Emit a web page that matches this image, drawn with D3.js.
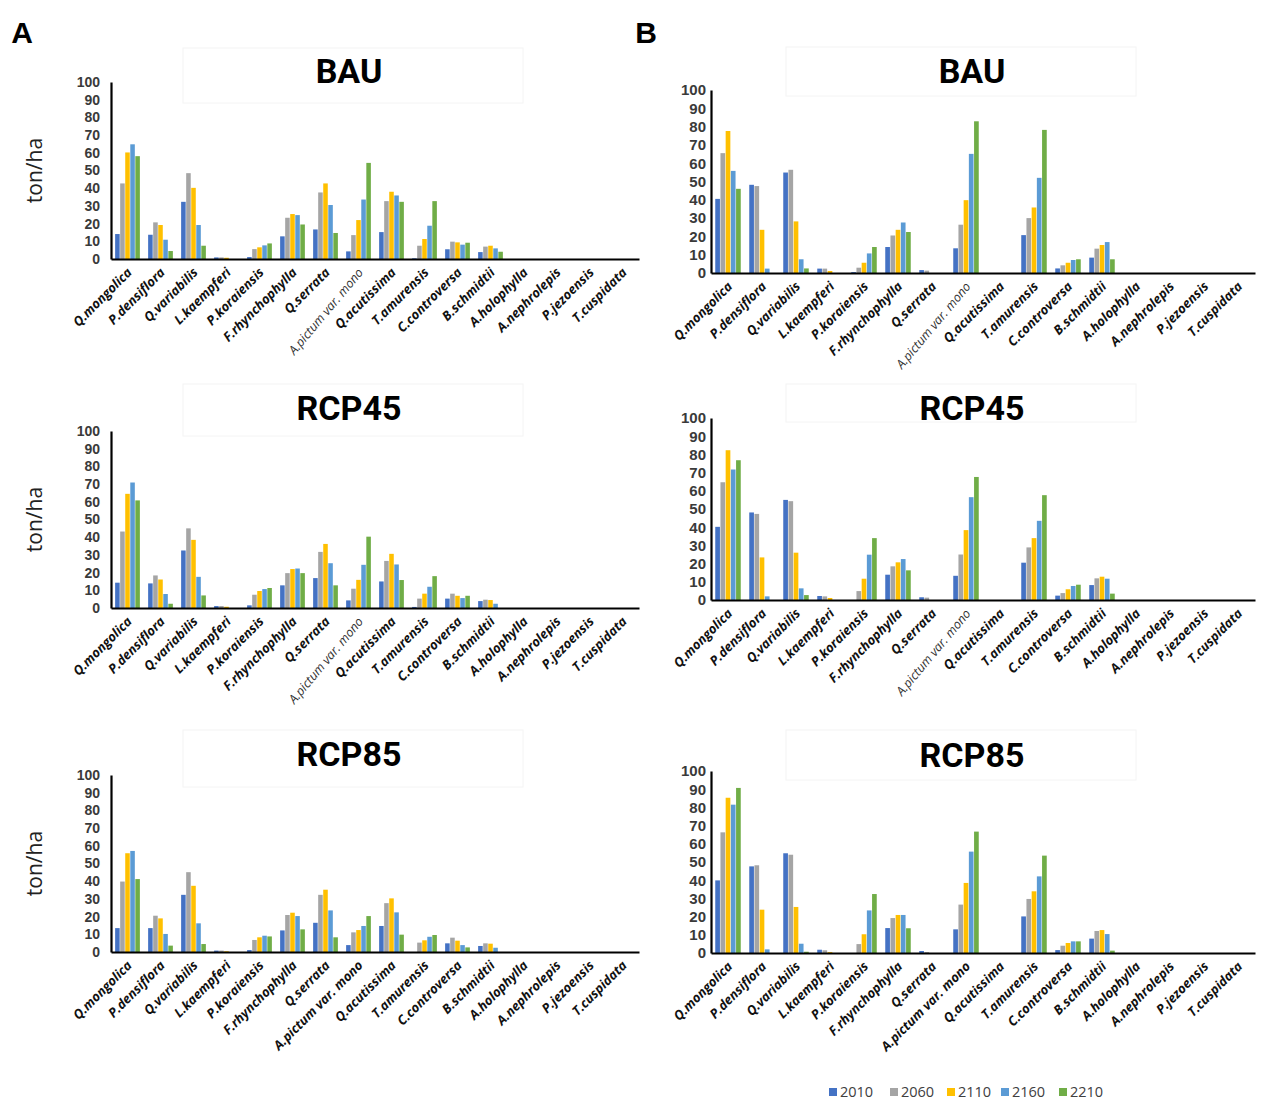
<!DOCTYPE html>
<html>
<head>
<meta charset="utf-8">
<script src="https://cdn.jsdelivr.net/npm/d3@7"></script>
<style>
  html, body { margin: 0; padding: 0; background: #fff; }
  svg { display: block; }
</style>
</head>
<body>
<svg id="chart" width="1268" height="1107"></svg>
<script>
// ---------- DATA ----------
const categories = ["Q.mongolica","P.densiflora","Q.variabilis","L.kaempferi","P.koraiensis",
  "F.rhynchophylla","Q.serrata","A.pictum var. mono","Q.acutissima","T.amurensis",
  "C.controversa","B.schmidtii","A.holophylla","A.nephrolepis","P.jezoensis","T.cuspidata"];
const years = ["2010","2060","2110","2160","2210"];
const yTicks = [0,10,20,30,40,50,60,70,80,90,100];
const scenarios = ["BAU","RCP45","RCP85"];
const panelLetters = ["A","B"];

// rows = years (2010, 2060, 2110, 2160, 2210), columns = categories
const A_BAU = [
  [14.1, 13.7, 32.3, 0.9, 1.1, 12.8, 16.7, 4.3, 15.2, 0.4, 5.5, 3.9, 0, 0, 0, 0],
  [42.7, 20.7, 48.5, 0.9, 5.6, 23.3, 37.6, 13.5, 32.7, 7.5, 9.8, 7.0, 0, 0, 0, 0],
  [60.2, 19.2, 40.2, 0.7, 6.6, 25.4, 42.7, 22.0, 38.0, 11.3, 9.4, 7.5, 0, 0, 0, 0],
  [64.8, 10.9, 19.2, 0, 7.7, 24.8, 30.5, 33.6, 35.9, 18.8, 8.1, 6.0, 0, 0, 0, 0],
  [58.1, 4.5, 7.5, 0, 8.8, 19.5, 14.7, 54.3, 32.3, 32.7, 9.2, 4.1, 0, 0, 0, 0]
];
const B_BAU = [
  [40.5, 48.2, 54.9, 2.4, 0.5, 14.2, 1.6, 13.5, 0, 20.7, 2.5, 8.4, 0, 0, 0, 0],
  [65.5, 47.5, 56.4, 2.4, 2.9, 20.5, 1.3, 26.4, 0, 30.0, 4.2, 13.3, 0, 0, 0, 0],
  [77.6, 23.6, 28.2, 1.1, 5.6, 23.6, 0, 39.8, 0, 35.8, 5.6, 15.3, 0, 0, 0, 0],
  [55.8, 2.4, 7.5, 0, 10.7, 27.6, 0, 65.1, 0, 52.0, 7.1, 16.9, 0, 0, 0, 0],
  [46.0, 0, 2.5, 0, 14.2, 22.4, 0, 82.9, 0, 78.2, 7.5, 7.5, 0, 0, 0, 0]
];
const A_RCP45 = [
  [14.3, 13.9, 32.5, 1.1, 1.5, 12.8, 16.9, 4.3, 15.0, 0.6, 5.3, 3.9, 0, 0, 0, 0],
  [43.2, 18.4, 45.0, 1.1, 7.5, 19.7, 31.7, 10.9, 26.6, 5.3, 8.1, 4.7, 0, 0, 0, 0],
  [64.5, 16.1, 38.5, 0.7, 9.6, 22.0, 36.2, 15.9, 30.6, 8.1, 6.9, 4.5, 0, 0, 0, 0],
  [70.9, 7.9, 17.6, 0, 10.7, 22.3, 25.3, 24.4, 24.6, 12.0, 5.6, 2.4, 0, 0, 0, 0],
  [60.8, 2.4, 7.1, 0, 11.3, 19.7, 12.8, 40.3, 15.8, 18.0, 6.9, 0, 0, 0, 0, 0]
];
const B_RCP45 = [
  [40.2, 48.1, 55.0, 2.2, 0, 13.9, 1.5, 13.3, 0, 20.5, 2.4, 8.2, 0, 0, 0, 0],
  [64.7, 47.3, 54.3, 2.0, 4.9, 18.5, 1.3, 25.0, 0, 28.9, 3.8, 11.9, 0, 0, 0, 0],
  [82.3, 23.4, 26.0, 1.1, 11.7, 20.7, 0, 38.4, 0, 34.0, 5.9, 12.8, 0, 0, 0, 0],
  [71.7, 2.0, 6.4, 0, 24.9, 22.5, 0, 56.5, 0, 43.5, 7.7, 11.7, 0, 0, 0, 0],
  [76.8, 0, 2.7, 0, 34.0, 16.3, 0, 67.6, 0, 57.6, 8.4, 3.5, 0, 0, 0, 0]
];
const A_RCP85 = [
  [13.5, 13.5, 32.3, 0.8, 1.1, 12.2, 16.5, 3.9, 14.7, 0, 4.9, 3.4, 0, 0, 0, 0],
  [39.8, 20.5, 45.1, 0.8, 6.8, 20.9, 32.3, 11.1, 27.6, 5.3, 8.1, 4.9, 0, 0, 0, 0],
  [55.8, 19.0, 37.4, 0.4, 8.3, 22.2, 35.2, 12.4, 30.3, 6.6, 6.4, 4.7, 0, 0, 0, 0],
  [57.1, 10.2, 16.2, 0, 9.2, 20.3, 23.5, 14.7, 22.4, 8.6, 3.9, 2.4, 0, 0, 0, 0],
  [41.2, 3.6, 4.5, 0, 8.8, 12.8, 8.3, 20.3, 9.8, 9.6, 2.6, 0, 0, 0, 0, 0]
];
const B_RCP85 = [
  [39.9, 47.6, 54.8, 1.8, 0, 13.7, 1.1, 13.0, 0, 20.1, 1.6, 7.9, 0, 0, 0, 0],
  [66.3, 48.2, 54.0, 1.5, 4.9, 19.2, 0.5, 26.6, 0, 29.7, 4.0, 12.1, 0, 0, 0, 0],
  [85.3, 23.8, 25.3, 0.5, 10.3, 20.9, 0, 38.5, 0, 33.9, 5.5, 12.6, 0, 0, 0, 0],
  [81.5, 2.0, 5.1, 0, 23.4, 20.9, 0, 55.7, 0, 42.1, 6.4, 10.4, 0, 0, 0, 0],
  [90.7, 0, 0.7, 0, 32.4, 13.6, 0, 66.7, 0, 53.5, 6.4, 1.3, 0, 0, 0, 0]
];

// ---------- STYLE / LAYOUT ----------
const palette = ["#4472C4", "#A5A5A5", "#FFC000", "#5B9BD5", "#70AD47"];

const columns = {
  A: { x0: 111, x1: 639, tickGap: 11, tickSize: 14, titleX: 349, boxX: 183, boxW: 340, yLabel: true },
  B: { x0: 711, x1: 1255, tickGap: 5, tickSize: 15, titleX: 972, boxX: 786, boxW: 350, yLabel: false }
};
const panels = [
  { col: "A", scen: "BAU",   data: A_BAU,   top: 82,  bottom: 259, titleY: 83,  boxY: 48,  boxH: 55, lightPictum: true },
  { col: "B", scen: "BAU",   data: B_BAU,   top: 90,  bottom: 273, titleY: 83,  boxY: 47,  boxH: 49, lightPictum: true },
  { col: "A", scen: "RCP45", data: A_RCP45, top: 431, bottom: 608, titleY: 420, boxY: 384, boxH: 52, lightPictum: true },
  { col: "B", scen: "RCP45", data: B_RCP45, top: 418, bottom: 600, titleY: 420, boxY: 384, boxH: 38, lightPictum: true },
  { col: "A", scen: "RCP85", data: A_RCP85, top: 775, bottom: 952, titleY: 766, boxY: 730, boxH: 57, lightPictum: false },
  { col: "B", scen: "RCP85", data: B_RCP85, top: 771, bottom: 953, titleY: 767, boxY: 730, boxH: 50, lightPictum: false }
];

const svg = d3.select("#chart");

// panel letters
svg.selectAll("text.letter").data(panelLetters).join("text")
  .attr("class", "letter")
  .attr("x", (d, i) => i === 0 ? 22 : 646)
  .attr("y", 43)
  .attr("text-anchor", "middle")
  .attr("font-family", "Liberation Sans, Arial, sans-serif")
  .attr("font-weight", 700)
  .attr("font-size", 30)
  .attr("fill", "#000")
  .text(d => d);

panels.forEach(p => {
  const c = columns[p.col];
  const g = svg.append("g");

  const x = d3.scaleBand().domain(categories).range([c.x0, c.x1])
    .paddingInner(0.25).paddingOuter(0.125);
  const xi = d3.scaleBand().domain(years).range([0, x.bandwidth()]).paddingInner(0.1);
  const y = d3.scaleLinear().domain([0, 100]).range([p.bottom, p.top]);

  // faint title box
  g.append("rect")
    .attr("x", c.boxX).attr("y", p.boxY).attr("width", c.boxW).attr("height", p.boxH)
    .attr("fill", "none").attr("stroke", "#f4f4f4").attr("stroke-width", 1);

  // title
  g.append("text")
    .attr("x", c.titleX).attr("y", p.titleY)
    .attr("text-anchor", "middle")
    .attr("font-family", "Roboto, Arial, sans-serif")
    .attr("font-weight", 700)
    .attr("font-size", 34)
    .attr("fill", "#000")
    .text(p.scen);

  // bars
  p.data.forEach((vals, yi) => {
    g.append("g").selectAll("rect").data(vals.map((v, ci) => ({ v, cat: categories[ci] })))
      .join("rect")
      .attr("x", d => x(d.cat) + xi(years[yi]))
      .attr("width", xi.bandwidth())
      .attr("y", d => y(d.v))
      .attr("height", d => y(0) - y(d.v))
      .attr("fill", palette[yi]);
  });

  // y axis
  const yAxis = d3.axisLeft(y).tickValues(yTicks).tickSize(0).tickPadding(c.tickGap);
  const ya = g.append("g").attr("transform", `translate(${c.x0},0)`).call(yAxis);
  ya.select(".domain").attr("stroke", "#000").attr("stroke-width", 2.2);
  ya.selectAll("text")
    .attr("font-family", "Liberation Sans, Arial, sans-serif")
    .attr("font-weight", 700)
    .attr("font-size", c.tickSize)
    .attr("fill", "#3a3a3a");

  // x axis
  const xAxis = d3.axisBottom(x).tickSize(0).tickFormat(() => "");
  const xa = g.append("g").attr("transform", `translate(0,${p.bottom})`).call(xAxis);
  xa.select(".domain").attr("stroke", "#000").attr("stroke-width", 2.2);

  // category labels
  const isLight = d => p.lightPictum && d === "A.pictum var. mono";
  g.append("g").selectAll("text").data(categories).join("text")
    .attr("transform", d => {
      const cx = x(d) + x.bandwidth() / 2;
      return `translate(${cx + 2},${p.bottom + 11}) rotate(${isLight(d) ? -50 : -45})`;
    })
    .attr("dy", "0.35em")
    .attr("text-anchor", "end")
    .attr("font-family", "Open Sans, Arial, sans-serif")
    .attr("font-style", "italic")
    .attr("font-weight", d => isLight(d) ? 400 : 700)
    .attr("font-size", d => isLight(d) ? 12.5 : 13)
    .attr("fill", d => isLight(d) ? "#333" : "#111")
    .text(d => d);

  // y label
  if (c.yLabel) {
    const cy = (p.top + p.bottom) / 2;
    g.append("text")
      .attr("transform", `translate(42,${cy}) rotate(-90)`)
      .attr("text-anchor", "middle")
      .attr("font-family", "Open Sans, Arial, sans-serif")
      .attr("font-size", 21)
      .attr("fill", "#222")
      .text("ton/ha");
  }
});

// legend
const legendX = [829, 890, 947, 1001, 1059];
const lg = svg.append("g");
years.forEach((yr, i) => {
  lg.append("rect").attr("x", legendX[i]).attr("y", 1088).attr("width", 8).attr("height", 8)
    .attr("fill", palette[i]);
  lg.append("text").attr("x", legendX[i] + 11).attr("y", 1097)
    .attr("font-family", "Open Sans, Arial, sans-serif")
    .attr("font-size", 14.5)
    .attr("fill", "#404040")
    .text(yr);
});
</script>
</body>
</html>
